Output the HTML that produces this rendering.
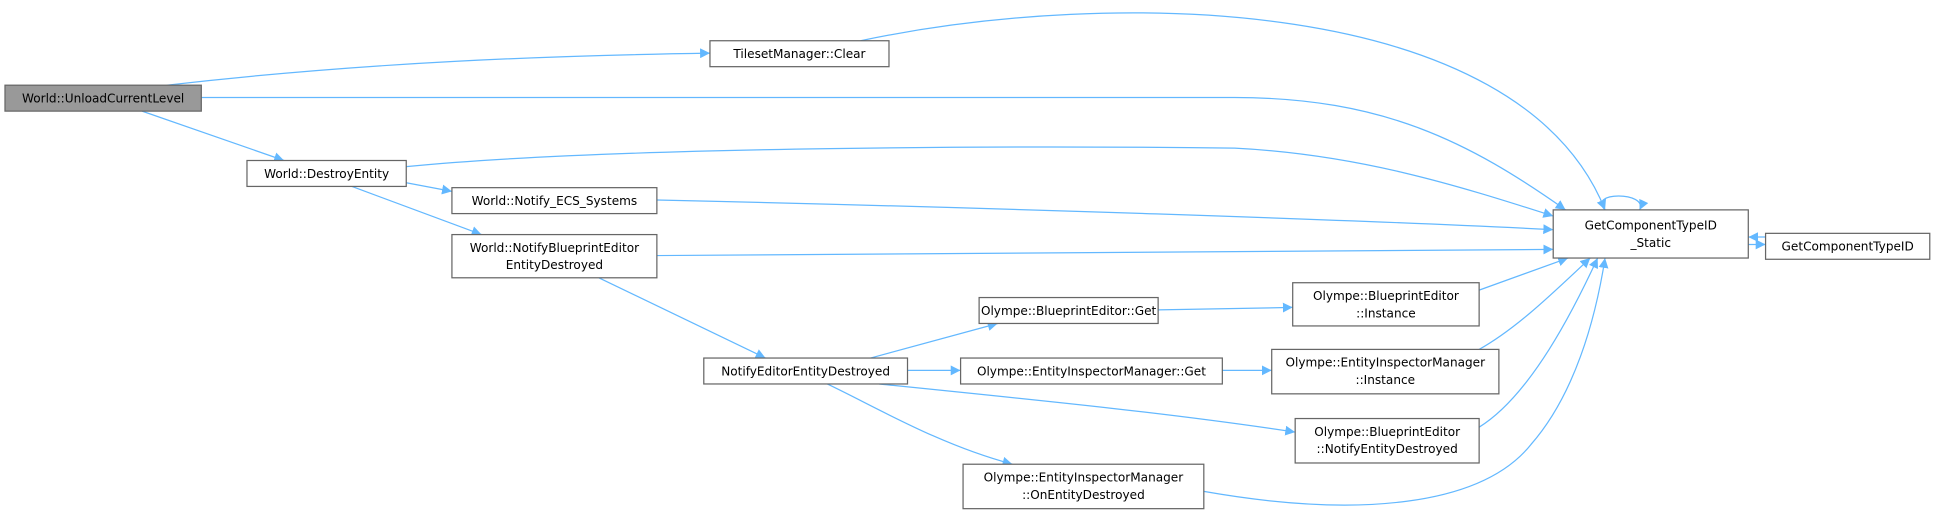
<!DOCTYPE html>
<html><head><meta charset="utf-8"><style>
html,body{margin:0;padding:0;background:#fff;}
svg{display:block;}
text{font-family:"DejaVu Sans","Liberation Sans",sans-serif;font-size:9.8px;fill:#000;text-anchor:middle;}
.n{fill:#fff;stroke:#666;stroke-width:1;}
.e{fill:none;stroke:#63b8ff;stroke-width:1;}
</style></head><body>
<svg width="1936" height="522" viewBox="0 0 1568 422.8" xmlns="http://www.w3.org/2000/svg">
<defs><marker id="a" viewBox="0 0 10 10" refX="10" refY="5" markerWidth="8" markerHeight="8" orient="auto" markerUnits="userSpaceOnUse"><path d="M0,0 L10,5 L0,10 z" fill="#63b8ff"/></marker></defs>
<g marker-end="url(#a)">
<path class="e" d="M135,69 C300,50 450,45 575,43"/>
<path class="e" d="M163,79 L1000,79 C1120,79 1190,115 1268,170"/>
<path class="e" d="M115,90 L230,130"/>
<path class="e" d="M697,33 C900,-10 1230,-5 1300,170"/>
<path class="e" d="M329,135 C500,118 850,118 1000,120 C1100,125 1180,150 1258,175"/>
<path class="e" d="M329,148 L366,155"/>
<path class="e" d="M285,151 L390,190"/>
<path class="e" d="M532,162 C800,168 1100,178 1258,186"/>
<path class="e" d="M532,207 L1258,202"/>
<path class="e" d="M485,225 L620,290"/>
<path class="e" d="M705,290 L808,262"/>
<path class="e" d="M735,300 L778,300"/>
<path class="e" d="M712,311 C850,325 950,335 1049,350"/>
<path class="e" d="M670,311 C710,330 760,360 820,376"/>
<path class="e" d="M938,251 L1047,249"/>
<path class="e" d="M990,300 L1030,300"/>
<path class="e" d="M1198,235 L1270,209"/>
<path class="e" d="M1198,283 C1230,265 1260,235 1288,209"/>
<path class="e" d="M1198,346 C1240,320 1275,250 1294,209"/>
<path class="e" d="M975,398 C1100,420 1200,410 1240,360 C1275,320 1292,260 1300,209"/>
<path class="e" d="M1300,170 C1285,155 1335,155 1328,170"/>
<path class="e" d="M1416,198 L1430,198"/>
<path class="e" d="M1430,192 L1416,192"/>
</g>
<rect x="4" y="69" width="159" height="21" fill="#999" stroke="#666"/><text x="83.5" y="83">World::UnloadCurrentLevel</text>
<rect class="n" x="575" y="33" width="145" height="21"/><text x="647.5" y="47">TilesetManager::Clear</text>
<rect class="n" x="200" y="130" width="129" height="21"/><text x="264.5" y="144">World::DestroyEntity</text>
<rect class="n" x="366" y="152" width="166" height="21"/><text x="449" y="166">World::Notify_ECS_Systems</text>
<rect class="n" x="366" y="190" width="166" height="35"/><text x="449" y="204">World::NotifyBlueprintEditor</text><text x="449" y="218">EntityDestroyed</text>
<rect class="n" x="1258" y="170" width="158" height="39"/><text x="1337" y="186">GetComponentTypeID</text><text x="1337" y="200">_Static</text>
<rect class="n" x="1430" y="189" width="133" height="21"/><text x="1496.5" y="203">GetComponentTypeID</text>
<rect class="n" x="793" y="241" width="145" height="21"/><text x="865.5" y="255">Olympe::BlueprintEditor::Get</text>
<rect class="n" x="1047" y="229" width="151" height="35"/><text x="1122.5" y="243">Olympe::BlueprintEditor</text><text x="1122.5" y="257">::Instance</text>
<rect class="n" x="570" y="290" width="165" height="21"/><text x="652.5" y="304">NotifyEditorEntityDestroyed</text>
<rect class="n" x="778" y="290" width="212" height="21"/><text x="884" y="304">Olympe::EntityInspectorManager::Get</text>
<rect class="n" x="1030" y="283" width="184" height="36"/><text x="1122" y="297">Olympe::EntityInspectorManager</text><text x="1122" y="311">::Instance</text>
<rect class="n" x="1049" y="339" width="149" height="36"/><text x="1123.5" y="353">Olympe::BlueprintEditor</text><text x="1123.5" y="367">::NotifyEntityDestroyed</text>
<rect class="n" x="780" y="376" width="195" height="36"/><text x="877.5" y="390">Olympe::EntityInspectorManager</text><text x="877.5" y="404">::OnEntityDestroyed</text>
</svg>
</body></html>
